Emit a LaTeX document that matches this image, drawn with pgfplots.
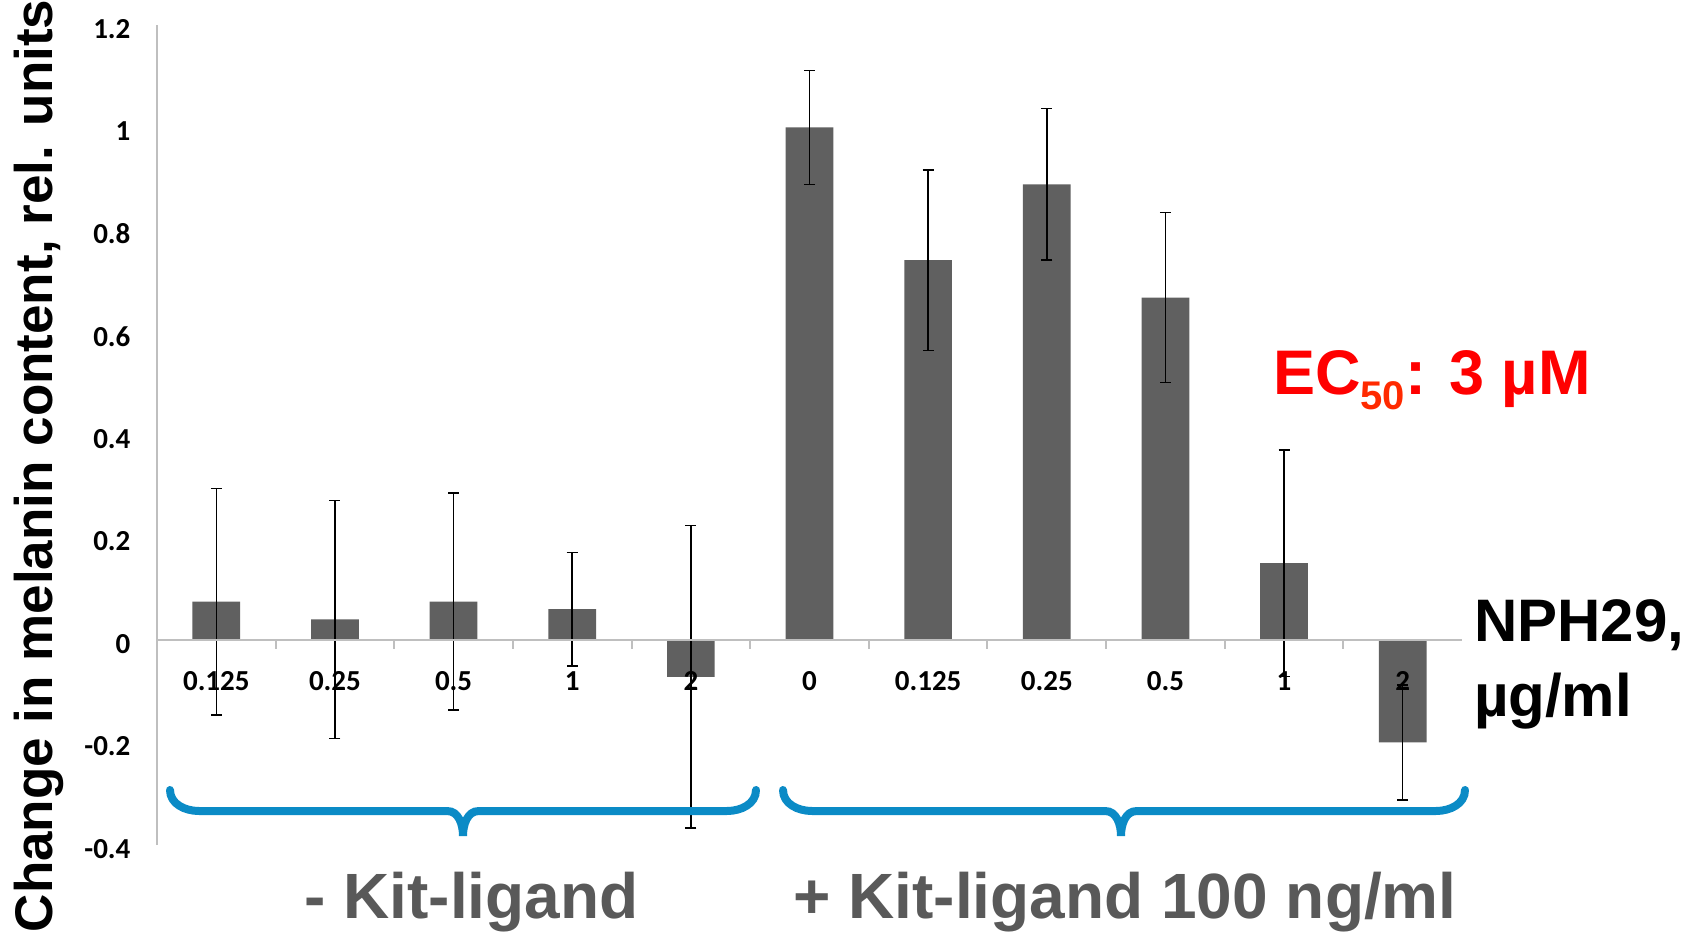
\documentclass[border=0pt]{standalone}
\usepackage{pgfplots}
\pgfplotsset{compat=1.18}
\usepackage{fontspec}
\setmainfont{Liberation Sans}
\newfontfamily\carlito{Carlito}
\definecolor{barcol}{HTML}{606060}
\definecolor{bracecol}{HTML}{0B8BC6}
\definecolor{grouptext}{HTML}{595959}
\definecolor{axisgray}{HTML}{BFBFBF}
\definecolor{ecred}{HTML}{FF0000}
\definecolor{subred}{HTML}{FF2A00}
\begin{document}
\begin{tikzpicture}
\begin{axis}[
  at={(0,0)}, anchor=south west,
  scale only axis, width=652.5pt, height=410pt,
  xmin=-0.5, xmax=10.5, ymin=-0.4, ymax=1.2,
  axis x line=middle, axis y line=left,
  axis line style={-, draw=axisgray, line width=1pt},
  axis on top,
  xtick={0,...,10},
  xticklabels={0.125,0.25,0.5,1,2,0,0.125,0.25,0.5,1,2},
  minor xtick={0.5,1.5,...,9.5},
  major x tick style={draw=none},
  minor x tick style={draw=axisgray, line width=1pt},
  minor tick length=4.5pt,
  tick align=outside,
  ytick={-0.4,-0.2,0,0.2,0.4,0.6,0.8,1,1.2},
  yticklabels={-0.4,-0.2,0,0.2,0.4,0.6,0.8,1,1.2},
  ytick style={draw=none},
  ticklabel style={font=\carlito\bfseries\fontsize{14.5}{14.5}\selectfont},
  xticklabel style={anchor=base, yshift=-20.8pt},
  yticklabel style={anchor=east, xshift=-5.5pt, yshift=-2pt},
  clip=false,
]
\addplot[ybar, bar width=23.85pt, fill=barcol, draw=none,
  error bars/.cd, y dir=both, y explicit,
  error bar style={black, line width=0.75pt},
  error mark options={rotate=90, black, mark size=2.75pt, line width=0.75pt}]
coordinates {
  (0,0.075) +- (0,0.221)
  (1,0.040) +- (0,0.232)
  (2,0.075) +- (0,0.212)
  (3,0.060) +- (0,0.111)
  (4,-0.072) +- (0,0.295)
  (5,1.000) +- (0,0.111)
  (6,0.741) +- (0,0.176)
  (7,0.889) +- (0,0.148)
  (8,0.668) +- (0,0.166)
  (9,0.150) +- (0,0.221)
  (10,-0.200) +- (0,0.112)
};
\end{axis}
% y label
\node[rotate=90, anchor=base, inner sep=0pt, font=\bfseries\fontsize{26.5}{26.5}\selectfont]
  at (-52.5pt,189.5pt) {Change in melanin content, rel. units};
% NPH29 label
\node[anchor=base west, inner sep=0pt, font=\bfseries\fontsize{30}{30}\selectfont]
  at (658.3pt,101.5pt) {NPH29,};
\node[anchor=base west, inner sep=0pt, font=\bfseries\fontsize{30}{30}\selectfont]
  at (658.3pt,64pt) {µg/ml};
% EC50
\node[anchor=base west, inner sep=0pt, text=ecred, font=\bfseries\fontsize{31.5}{31.5}\selectfont]
  at (557.8pt,225pt) {EC\raisebox{-7.5pt}{\textcolor{subred}{\fontsize{20}{20}\selectfont 50}}: 3 µM};
% group labels
\node[anchor=base west, inner sep=0pt, text=grouptext, font=\bfseries\fontsize{32}{32}\selectfont]
  at (73.5pt,-36.5pt) {- Kit-ligand};
\node[anchor=base west, inner sep=0pt, text=grouptext, font=\bfseries\fontsize{32}{32}\selectfont]
  at (318pt,-36.5pt) {+ Kit-ligand 100 ng/ml};
% braces
\draw[bracecol, line width=4pt, line cap=round]
  (6.5pt,27.5pt) to[out=-90,in=180] (21pt,17pt) -- (145pt,17pt)
  to[out=0,in=90] (153pt,4.5pt) to[out=90,in=180] (161pt,17pt)
  -- (285pt,17pt) to[out=0,in=-90] (299.5pt,27.5pt);
\draw[bracecol, line width=4pt, line cap=round]
  (313pt,27.5pt) to[out=-90,in=180] (327.5pt,17pt) -- (474pt,17pt)
  to[out=0,in=90] (482pt,4.5pt) to[out=90,in=180] (490pt,17pt)
  -- (639.5pt,17pt) to[out=0,in=-90] (654pt,27.5pt);
\pgfresetboundingbox
\path (-78.5pt,-46pt) rectangle (770pt,422.5pt);
\end{tikzpicture}
\end{document}
